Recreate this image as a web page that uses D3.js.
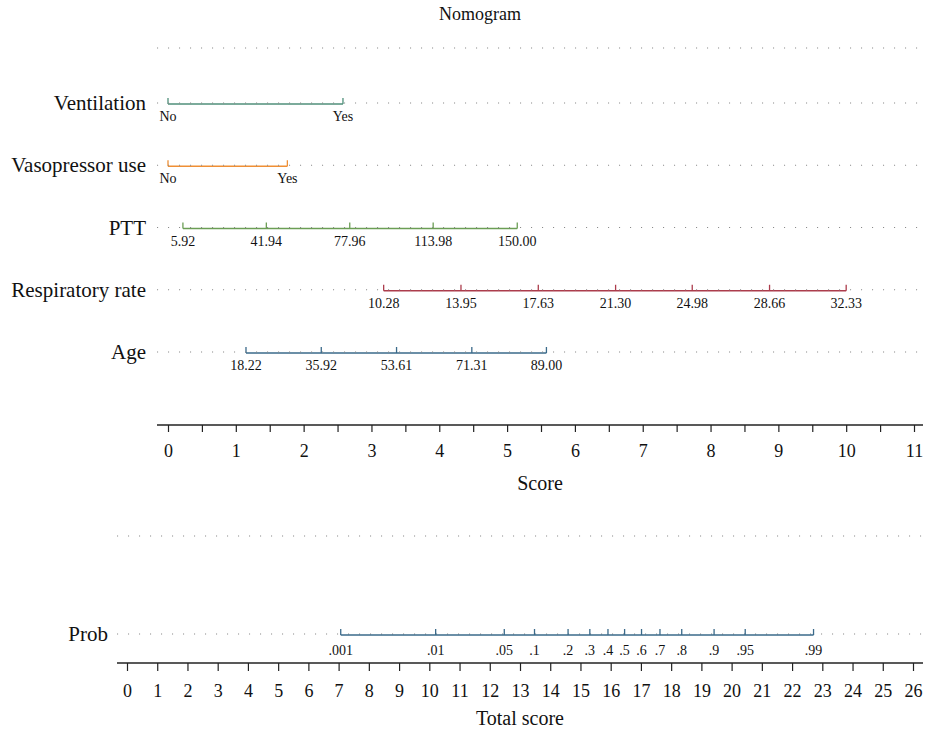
<!DOCTYPE html>
<html>
<head>
<meta charset="utf-8">
<script src="https://cdn.jsdelivr.net/npm/d3@7"></script>
<style>
  body { margin: 0; background: #fff; }
  svg text { font-family: "Liberation Serif", "DejaVu Serif", serif; fill: #111; }
</style>
</head>
<body>
<div id="chart"></div>
<script>
var width = 928;
var height = 733;

// predictors, top to bottom
var varNames = ["Ventilation", "Vasopressor use", "PTT", "Respiratory rate", "Age"];

// tick labels and the score each one sits on
var ventLabels = ["No", "Yes"];
var ventScores = [0, 2.58];
var vasoLabels = ["No", "Yes"];
var vasoScores = [0, 1.76];
var pttLabels = ["5.92", "41.94", "77.96", "113.98", "150.00"];
var pttScores = [0.22, 1.45, 2.68, 3.91, 5.15];
var respLabels = ["10.28", "13.95", "17.63", "21.30", "24.98", "28.66", "32.33"];
var respScores = [3.18, 4.32, 5.46, 6.60, 7.73, 8.87, 10.0];
var ageLabels = ["18.22", "35.92", "53.61", "71.31", "89.00"];
var ageScores = [1.15, 2.26, 3.37, 4.48, 5.58];

// probability scale vs total score
var probLabels = [".001", ".01", ".05", ".1", ".2", ".3", ".4", ".5", ".6", ".7", ".8", ".9", ".95", ".99"];
var probScores = [7.07, 10.21, 12.48, 13.48, 14.59, 15.31, 15.91, 16.46, 17.02, 17.63, 18.35, 19.42, 20.45, 22.71];

var scoreTicks = d3.range(0, 11.5, 0.5);
var totalTicks = d3.range(0, 27, 1);

var rowColors = ["#4f8f7a", "#ef8f35", "#6b9e55", "#ac3c4c", "#3a6a8a"];
var probColor = "#3a6a8a";

var tickLabels = [ventLabels, vasoLabels, pttLabels, respLabels, ageLabels];
var tickScores = [ventScores, vasoScores, pttScores, respScores, ageScores];

var svg = d3.select("#chart")
  .append("svg")
  .attr("width", width)
  .attr("height", height);

var xScore = d3.scaleLinear().domain([0, 11]).range([168, 914]);
var xTotal = d3.scaleLinear().domain([0, 26]).range([127, 913]);

var yRow = d3.scalePoint().domain(varNames).range([104, 353]);

var plotRight = 923;
var scoreLeft = 157;
var totalLeft = 117;

function dotted(y, x0) {
  svg.append("line")
    .attr("x1", x0).attr("x2", plotRight)
    .attr("y1", y - 1).attr("y2", y - 1)
    .attr("stroke", "#8a8a8a")
    .attr("stroke-width", 1.1)
    .attr("stroke-dasharray", "1.1,9.9");
}

// title
svg.append("text")
  .attr("x", 480).attr("y", 20)
  .attr("text-anchor", "middle")
  .style("font-size", "18px")
  .text("Nomogram");

// top "Points" row, unlabeled
dotted(49, scoreLeft);

// predictor rows
varNames.forEach(function(name, i) {
  var y = yRow(name);
  var scores = tickScores[i];
  var g = svg.append("g");

  dotted(y, scoreLeft);

  g.append("text")
    .attr("x", 146).attr("y", y + 6)
    .attr("text-anchor", "end")
    .style("font-size", "21px")
    .text(name);

  g.append("line")
    .attr("x1", xScore(d3.min(scores))).attr("x2", xScore(d3.max(scores)))
    .attr("y1", y).attr("y2", y)
    .attr("stroke", rowColors[i])
    .attr("stroke-width", 1.3);

  g.selectAll(".tk")
    .data(scores)
    .enter()
    .append("line")
    .attr("x1", function(d) { return xScore(d); })
    .attr("x2", function(d) { return xScore(d); })
    .attr("y1", y).attr("y2", y - 6)
    .attr("stroke", rowColors[i])
    .attr("stroke-width", 1.3);

  g.selectAll(".lb")
    .data(scores)
    .enter()
    .append("text")
    .attr("x", function(d) { return xScore(d); })
    .attr("y", y + 17)
    .attr("text-anchor", "middle")
    .style("font-size", "14px")
    .text(function(d, j) { return tickLabels[i][j]; });
});

// score axis
var scoreY = 425;
svg.append("line")
  .attr("x1", scoreLeft).attr("x2", plotRight)
  .attr("y1", scoreY).attr("y2", scoreY)
  .attr("stroke", "#222").attr("stroke-width", 1.6);

var scoreAxis = d3.axisBottom(xScore)
  .tickValues(scoreTicks)
  .tickSize(7)
  .tickPadding(12)
  .tickFormat(function(d) { return d % 1 === 0 ? d : ""; });

svg.append("g")
  .attr("transform", "translate(0," + scoreY + ")")
  .call(scoreAxis)
  .call(function(g) { g.select(".domain").remove(); })
  .call(function(g) {
    g.selectAll("line").attr("stroke", "#222").attr("stroke-width", 1.2);
    g.selectAll("text").style("font-size", "18px").style("font-family", "Liberation Serif, serif").attr("fill", "#111");
  });

svg.append("text")
  .attr("x", (scoreLeft + plotRight) / 2).attr("y", 490)
  .attr("text-anchor", "middle")
  .style("font-size", "20px")
  .text("Score");

// total points row, unlabeled
dotted(537, totalLeft);

// probability row
var probY = 635;
dotted(probY, totalLeft);

svg.append("text")
  .attr("x", 108).attr("y", probY + 6)
  .attr("text-anchor", "end")
  .style("font-size", "21px")
  .text("Prob");

svg.append("line")
  .attr("x1", xTotal(d3.min(probScores))).attr("x2", xTotal(d3.max(probScores)))
  .attr("y1", probY).attr("y2", probY)
  .attr("stroke", probColor).attr("stroke-width", 1.3);

svg.selectAll(".ptk")
  .data(probScores)
  .enter()
  .append("line")
  .attr("x1", function(d) { return xTotal(d); })
  .attr("x2", function(d) { return xTotal(d); })
  .attr("y1", probY).attr("y2", probY - 6)
  .attr("stroke", probColor).attr("stroke-width", 1.3);

svg.selectAll(".plb")
  .data(probScores)
  .enter()
  .append("text")
  .attr("x", function(d) { return xTotal(d); })
  .attr("y", probY + 20)
  .attr("text-anchor", "middle")
  .style("font-size", "14px")
  .text(function(d, i) { return probLabels[i]; });

// total score axis
var totalY = 663;
svg.append("line")
  .attr("x1", totalLeft).attr("x2", plotRight)
  .attr("y1", totalY).attr("y2", totalY)
  .attr("stroke", "#222").attr("stroke-width", 1.6);

var totalAxis = d3.axisBottom(xTotal)
  .tickValues(totalTicks)
  .tickSize(8)
  .tickPadding(13);

svg.append("g")
  .attr("transform", "translate(0," + totalY + ")")
  .call(totalAxis)
  .call(function(g) { g.select(".domain").remove(); })
  .call(function(g) {
    g.selectAll("line").attr("stroke", "#222").attr("stroke-width", 1.2);
    g.selectAll("text").style("font-size", "18px").style("font-family", "Liberation Serif, serif").attr("fill", "#111");
  });

svg.append("text")
  .attr("x", (totalLeft + plotRight) / 2).attr("y", 725)
  .attr("text-anchor", "middle")
  .style("font-size", "20px")
  .text("Total score");
</script>
</body>
</html>
